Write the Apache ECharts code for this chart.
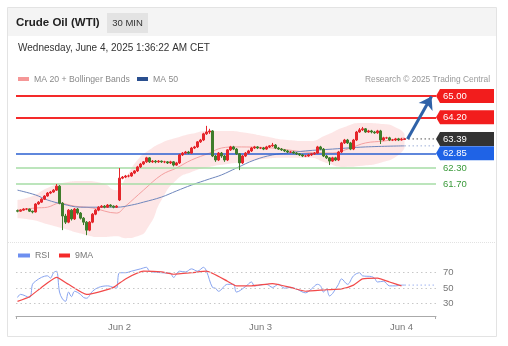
<!DOCTYPE html>
<html>
<head>
<meta charset="utf-8">
<script src="https://cdn.jsdelivr.net/npm/echarts@6/dist/echarts.min.js"></script>
<style>
  html, body { margin: 0; padding: 0; background: #fff; }
  #chart { width: 508px; height: 346px; }
</style>
</head>
<body>
<div id="chart"></div>
<script>
// 30-minute WTI candles, oldest first: [open, close, low, high] built from these
const opens = [
  60.70, 60.68, 60.72, 60.76, 60.76, 60.68, 60.65, 60.95, 61.02, 61.13,
  61.25, 61.36, 61.40, 61.47, 61.62, 60.98, 60.50, 60.27, 60.72, 60.39,
  60.76, 60.61, 60.42, 60.27, 59.97, 60.27, 60.57, 60.72, 60.83, 60.87,
  60.83, 60.91, 60.87, 60.83, 61.10, 61.92, 61.96, 62.00, 62.00, 62.11,
  62.19, 62.34, 62.45, 62.53, 62.68, 62.53, 62.56, 62.53, 62.56, 62.53,
  62.53, 62.49, 62.53, 62.41, 62.49, 62.79, 62.86, 62.90, 62.86, 63.05,
  63.09, 63.28, 63.35, 63.58, 63.65, 63.69, 62.75, 62.60, 62.86, 62.75,
  62.60, 62.98, 63.09, 63.01, 62.83, 62.49, 62.75, 62.86, 62.94, 63.05,
  63.09, 63.05, 63.05, 63.01, 63.09, 63.13, 63.16, 63.05, 63.01, 62.98,
  62.94, 62.90, 62.90, 62.86, 62.83, 62.79, 62.75, 62.75, 62.79, 62.83,
  62.86, 63.09, 63.01, 62.75, 62.68, 62.56, 62.68, 62.60, 62.90, 63.24,
  63.35, 63.24, 63.01, 63.35, 63.65, 63.73, 63.77, 63.65, 63.69, 63.65,
  63.62, 63.69, 63.35, 63.43, 63.43, 63.35, 63.35, 63.39, 63.35, 63.37
];
const closes = [
  60.68, 60.72, 60.76, 60.76, 60.68, 60.65, 60.95, 61.02, 61.13, 61.25,
  61.36, 61.40, 61.47, 61.62, 60.98, 60.50, 60.27, 60.72, 60.39, 60.76,
  60.61, 60.42, 60.27, 59.97, 60.27, 60.57, 60.72, 60.83, 60.87, 60.83,
  60.91, 60.87, 60.83, 60.87, 61.92, 61.96, 62.00, 62.00, 62.11, 62.19,
  62.34, 62.45, 62.53, 62.68, 62.53, 62.56, 62.53, 62.56, 62.53, 62.53,
  62.49, 62.53, 62.41, 62.49, 62.79, 62.86, 62.90, 62.86, 63.05, 63.09,
  63.28, 63.35, 63.58, 63.65, 63.69, 62.75, 62.60, 62.86, 62.75, 62.60,
  62.98, 63.09, 63.01, 62.83, 62.49, 62.75, 62.86, 62.94, 63.05, 63.09,
  63.05, 63.05, 63.01, 63.09, 63.13, 63.16, 63.05, 63.01, 62.98, 62.94,
  62.90, 62.90, 62.86, 62.83, 62.79, 62.75, 62.75, 62.79, 62.83, 62.86,
  63.09, 63.01, 62.75, 62.68, 62.56, 62.68, 62.60, 62.90, 63.24, 63.35,
  63.24, 63.01, 63.35, 63.65, 63.73, 63.77, 63.65, 63.69, 63.65, 63.62,
  63.69, 63.35, 63.43, 63.43, 63.35, 63.35, 63.39, 63.35, 63.37, 63.39
];
const lows = [
  60.64, 60.66, 60.70, 60.72, 60.65, 60.60, 60.63, 60.92, 60.99, 61.10,
  61.22, 61.32, 61.37, 61.44, 60.94, 59.97, 60.20, 60.23, 60.33, 60.35,
  60.55, 60.37, 60.16, 59.78, 59.93, 60.23, 60.53, 60.68, 60.80, 60.79,
  60.80, 60.83, 60.79, 60.80, 61.06, 61.88, 61.92, 61.95, 61.97, 62.07,
  62.15, 62.30, 62.41, 62.49, 62.49, 62.49, 62.48, 62.49, 62.49, 62.48,
  62.45, 62.45, 62.36, 62.38, 62.45, 62.75, 62.82, 62.82, 62.83, 63.01,
  63.05, 63.24, 63.31, 63.54, 63.58, 62.71, 62.53, 62.56, 62.68, 62.53,
  62.56, 62.94, 62.97, 62.79, 62.22, 62.45, 62.71, 62.83, 62.90, 63.01,
  63.01, 63.01, 62.97, 62.98, 63.05, 63.09, 63.01, 62.98, 62.94, 62.90,
  62.86, 62.86, 62.83, 62.79, 62.75, 62.71, 62.71, 62.72, 62.75, 62.79,
  62.83, 62.97, 62.71, 62.64, 62.41, 62.53, 62.56, 62.56, 62.86, 63.20,
  63.20, 62.97, 62.97, 63.31, 63.62, 63.69, 63.62, 63.62, 63.60, 63.58,
  63.58, 63.20, 63.31, 63.39, 63.31, 63.31, 63.31, 63.31, 63.33, 63.35
];
const highs = [
  60.74, 60.75, 60.79, 60.80, 60.78, 60.70, 60.98, 61.06, 61.17, 61.28,
  61.40, 61.44, 61.51, 61.70, 61.66, 61.02, 60.58, 60.76, 60.76, 60.80,
  60.80, 60.65, 60.46, 60.31, 60.31, 60.61, 60.76, 60.87, 60.91, 60.91,
  60.95, 60.94, 60.90, 60.91, 62.30, 62.00, 62.04, 62.05, 62.15, 62.22,
  62.38, 62.49, 62.56, 62.72, 62.71, 62.60, 62.60, 62.60, 62.58, 62.57,
  62.56, 62.57, 62.56, 62.53, 62.83, 62.90, 62.94, 62.94, 63.09, 63.13,
  63.31, 63.39, 63.62, 63.88, 63.77, 63.72, 62.79, 62.90, 62.90, 62.79,
  63.01, 63.13, 63.13, 63.05, 62.86, 62.79, 62.90, 62.98, 63.09, 63.13,
  63.12, 63.09, 63.09, 63.13, 63.16, 63.24, 63.20, 63.09, 63.05, 63.01,
  62.98, 62.94, 62.94, 62.90, 62.86, 62.83, 62.79, 62.83, 62.86, 62.90,
  63.13, 63.13, 63.05, 62.79, 62.71, 62.72, 62.72, 62.94, 63.28, 63.39,
  63.39, 63.28, 63.39, 63.69, 63.80, 63.84, 63.80, 63.73, 63.73, 63.69,
  63.73, 63.73, 63.47, 63.47, 63.47, 63.39, 63.43, 63.43, 63.43, 63.42
];

// Moving averages and Bollinger envelope (candle index, price)
const ma20Idx = [0, 6, 10, 14, 19, 25, 33, 36, 42, 48, 53, 58, 64, 68, 73, 85, 90, 96, 105, 111, 116, 122, 129];
const ma20Val = [60.72, 60.80, 60.83, 60.98, 60.87, 60.80, 60.61, 60.87, 61.47, 62.04, 62.30, 62.60, 62.86, 63.05, 63.09, 63.05, 62.98, 62.90, 62.86, 63.05, 63.24, 63.31, 63.43];
const ma50Idx = [0, 6, 10, 15, 21, 28, 33, 38, 42, 48, 53, 58, 64, 68, 73, 79, 85, 90, 96, 105, 116, 129];
const ma50Val = [61.47, 61.29, 61.10, 60.95, 60.83, 60.83, 60.83, 60.91, 61.02, 61.21, 61.44, 61.66, 61.89, 62.04, 62.30, 62.60, 62.79, 62.86, 62.94, 63.01, 63.09, 63.13];
const bandIdx   = [0, 5, 10, 15, 22, 28, 33, 36, 40, 44, 48, 53, 58, 64, 70, 76, 82, 90, 97, 103, 109, 115, 122, 127, 129];
const bandUpper = [61.10, 61.25, 61.55, 61.74, 61.81, 61.74, 61.47, 61.92, 62.60, 62.98, 63.24, 63.43, 63.58, 63.69, 63.69, 63.62, 63.50, 63.35, 63.31, 63.54, 63.84, 63.99, 63.95, 63.77, 63.58];
const bandLower = [60.42, 60.35, 60.19, 60.04, 59.82, 59.71, 59.74, 59.67, 59.74, 60.16, 61.10, 61.85, 62.15, 62.34, 62.45, 62.53, 62.64, 62.68, 62.68, 62.49, 62.34, 62.38, 62.53, 62.79, 63.05];

// RSI(14) and its 9-period average (candle index, value)
const rsiIdx = [0, 1, 4, 5, 6, 8, 10, 11, 12, 13, 14, 15, 16, 17, 18, 19, 21, 22, 23, 25, 27, 30, 32, 33, 34, 36, 38, 41, 43, 44, 48, 51, 52, 54, 56, 58, 60, 62, 63, 65, 66, 67, 70, 72, 73, 76, 78, 79, 83, 85, 87, 89, 91, 93, 96, 98, 100, 101, 102, 103, 104, 105, 107, 108, 110, 112, 114, 115, 118, 119, 120, 122, 124, 126, 128, 129];
const rsiVal = [38, 42, 38, 55, 59, 64, 66, 63, 70, 72, 45, 36, 33, 45, 39, 46, 42, 38, 37, 46, 51, 53, 51, 50, 70, 70, 72, 75, 77, 72, 70, 69, 64, 72, 71, 75, 72, 77, 72, 51, 50, 46, 55, 55, 45, 52, 58, 53, 55, 51, 55, 50, 51, 49, 44, 49, 55, 53, 45, 49, 40, 43, 55, 62, 55, 66, 70, 66, 65, 63, 58, 59, 53, 53, 54, 54];
const rsiMaIdx = [0, 4, 8, 13, 17, 23, 27, 32, 36, 42, 48, 52, 58, 63, 70, 73, 78, 85, 91, 96, 103, 108, 112, 115, 120, 124, 128];
const rsiMaVal = [33, 39, 51, 64, 55, 42, 45, 51, 62, 72, 71, 68, 70, 72, 59, 53, 53, 56, 51, 46, 48, 49, 54, 62, 63, 58, 53];

// Key levels and axis ticks
const resistance = [65.00, 64.20];
const pivot = 62.85;
const supports = [62.30, 61.70];
const lastPrice = 63.39;
const target = 65.00;
const rsiLevels = [70, 50, 30];
const dayTickIdx = [34, 81, 128];
const dayTickLabels = ['Jun 2', 'Jun 3', 'Jun 4'];
const slotCount = 140;

const FONT = '"Liberation Sans", Arial, Helvetica, sans-serif';
const categories = Array.from({ length: slotCount }, (_, i) => String(i));
const lastIdx = closes.length - 1;
const candleData = opens.map((o, i) => [o, closes[i], lows[i], highs[i]]);
const pairs = (idx, val) => idx.map((x, k) => [x, val[k]]);

// tag boxes drawn at the right edge for each level
const tags = [
  { v: resistance[0], fill: '#f21d1d', text: '#fff' },
  { v: resistance[1], fill: '#f21d1d', text: '#fff' },
  { v: lastPrice,     fill: '#333333', text: '#fff' },
  { v: pivot,         fill: '#1f63e6', text: '#fff' },
  { v: supports[0],   fill: null,      text: '#3a9a3a' },
  { v: supports[1],   fill: null,      text: '#3a9a3a' }
];

const chart = echarts.init(document.getElementById('chart'), null, { renderer: 'canvas' });

const option = {
  animation: false,
  backgroundColor: '#fff',
  textStyle: { fontFamily: FONT },
  grid: [
    { left: 16, width: 420, top: 88, height: 152 },
    { left: 16, width: 420, top: 265, height: 51 }
  ],
  xAxis: [
    { type: 'category', gridIndex: 0, data: categories, boundaryGap: true, show: false },
    {
      type: 'category', gridIndex: 1, data: categories, boundaryGap: true,
      axisLine: { show: true, lineStyle: { color: '#aaa', width: 1 } },
      axisTick: { show: false },
      axisLabel: {
        interval: (i) => dayTickIdx.includes(i),
        formatter: (v) => { const k = dayTickIdx.indexOf(Number(v)); return k >= 0 ? dayTickLabels[k] : ''; },
        color: '#777', fontSize: 9.5, fontFamily: FONT, margin: 6
      },
      splitLine: { show: false }
    }
  ],
  yAxis: [
    { type: 'value', gridIndex: 0, min: 59.6, max: 65.3, show: false, splitLine: { show: false } },
    { type: 'value', gridIndex: 1, min: 14, max: 80, show: false, splitLine: { show: false } }
  ],
  series: [
    // Bollinger envelope: lower edge + width, stacked
    {
      type: 'line', xAxisIndex: 0, yAxisIndex: 0, stack: 'bb', smooth: 0.6, symbol: 'none',
      data: pairs(bandIdx, bandLower), lineStyle: { opacity: 0 }, areaStyle: { opacity: 0 }, silent: true, z: 1
    },
    {
      type: 'line', xAxisIndex: 0, yAxisIndex: 0, stack: 'bb', smooth: 0.6, symbol: 'none',
      data: bandIdx.map((x, k) => [x, +(bandUpper[k] - bandLower[k]).toFixed(2)]),
      lineStyle: { opacity: 0 }, areaStyle: { color: 'rgba(250, 200, 200, 0.65)' }, silent: true, z: 1
    },
    {
      name: 'MA 20', type: 'line', xAxisIndex: 0, yAxisIndex: 0, smooth: 0.4, symbol: 'none',
      data: pairs(ma20Idx, ma20Val), lineStyle: { color: '#f4a0a0', width: 1 }, z: 3
    },
    {
      name: 'MA 50', type: 'line', xAxisIndex: 0, yAxisIndex: 0, smooth: 0.4, symbol: 'none',
      data: pairs(ma50Idx, ma50Val), lineStyle: { color: '#6f87bd', width: 1 }, z: 3
    },
    {
      type: 'candlestick', xAxisIndex: 0, yAxisIndex: 0, data: candleData, barWidth: 1.8, z: 5,
      itemStyle: { color: '#e5262b', color0: '#3f7d2b', borderColor: '#e5262b', borderColor0: '#3f7d2b', borderWidth: 1 },
      markLine: {
        silent: true, symbol: 'none', label: { show: false },
        data: [
          { yAxis: resistance[0], lineStyle: { color: '#f42a2a', width: 2, type: 'solid' } },
          { yAxis: resistance[1], lineStyle: { color: '#f42a2a', width: 2, type: 'solid' } },
          { yAxis: pivot,         lineStyle: { color: '#2a5fd0', width: 1.5, type: 'solid' } },
          { yAxis: supports[0],   lineStyle: { color: '#a6dca6', width: 1.5, type: 'solid' } },
          { yAxis: supports[1],   lineStyle: { color: '#a6dca6', width: 1.5, type: 'solid' } }
        ]
      }
    },
    // price and MA50 carried forward to the tags
    {
      type: 'line', xAxisIndex: 0, yAxisIndex: 0, symbol: 'none', silent: true, z: 4,
      data: [[lastIdx, lastPrice], [slotCount - 1, lastPrice]],
      lineStyle: { color: '#555', width: 1, type: [1.5, 2.5] }
    },
    {
      type: 'line', xAxisIndex: 0, yAxisIndex: 0, symbol: 'none', silent: true, z: 4,
      data: [[lastIdx, ma50Val[ma50Val.length - 1]], [slotCount - 1, ma50Val[ma50Val.length - 1]]],
      lineStyle: { color: '#9fb0d8', width: 1, type: [1.5, 2.5] }
    },
    // projected move towards the target
    {
      type: 'line', xAxisIndex: 0, yAxisIndex: 0, data: [], silent: true, z: 8,
      markLine: {
        silent: true, symbol: ['none', 'arrow'], symbolSize: [12, 12], label: { show: false },
        lineStyle: { color: '#2f62a8', width: 3, type: 'solid' },
        data: [[{ coord: [lastIdx + 1, lastPrice] }, { coord: [slotCount - 2, target - 0.02] }]]
      }
    },
    // level tags at the right edge
    {
      type: 'custom', xAxisIndex: 0, yAxisIndex: 0, clip: false, silent: true, z: 10,
      data: tags.map(t => [slotCount - 1, t.v]),
      renderItem: (params, api) => {
        const t = tags[params.dataIndex];
        const y = api.coord([slotCount - 1, t.v])[1];
        const x0 = params.coordSys.x + params.coordSys.width;
        const children = [];
        if (t.fill) {
          children.push({
            type: 'polygon',
            shape: { points: [[x0, y], [x0 + 4, y - 7], [x0 + 58, y - 7], [x0 + 58, y + 7], [x0 + 4, y + 7]] },
            style: { fill: t.fill }
          });
        }
        children.push({
          type: 'text',
          style: { x: x0 + 7, y: y, text: t.v.toFixed(2), fill: t.text, font: '9.5px ' + FONT, verticalAlign: 'middle', align: 'left' }
        });
        return { type: 'group', children };
      }
    },
    // RSI panel
    {
      name: 'RSI', type: 'line', xAxisIndex: 1, yAxisIndex: 1, smooth: 0.35, symbol: 'none',
      data: pairs(rsiIdx, rsiVal), lineStyle: { color: '#88a4f0', width: 1 }, z: 3,
      markLine: {
        silent: true, symbol: 'none',
        lineStyle: { color: '#c8c8c8', width: 1, type: [1.5, 3] },
        label: { show: true, position: 'end', distance: 7, color: '#777', fontSize: 9.5, fontFamily: FONT, formatter: '{c}' },
        data: rsiLevels.map(v => ({ yAxis: v }))
      }
    },
    {
      type: 'line', xAxisIndex: 1, yAxisIndex: 1, symbol: 'none', silent: true, z: 2,
      data: [[lastIdx, rsiVal[rsiVal.length - 1]], [slotCount - 1, rsiVal[rsiVal.length - 1]]],
      lineStyle: { color: '#9fb3f0', width: 1, type: [1.5, 2.5] }
    },
    {
      name: '9MA', type: 'line', xAxisIndex: 1, yAxisIndex: 1, smooth: 0.15, symbol: 'none',
      data: pairs(rsiMaIdx, rsiMaVal), lineStyle: { color: '#f24a4a', width: 1.2 }, z: 4
    }
  ],
  graphic: [
    // frame and header
    { type: 'rect', shape: { x: 7.5, y: 7.5, width: 489, height: 329 }, style: { fill: 'none', stroke: '#e3e3e3', lineWidth: 1 }, z: -10 },
    { type: 'rect', shape: { x: 8, y: 8, width: 488, height: 28 }, style: { fill: '#f4f4f4' }, z: -9 },
    { type: 'text', style: { x: 16, y: 23, text: 'Crude Oil (WTI)', font: 'bold 11.5px ' + FONT, fill: '#222', verticalAlign: 'middle' } },
    { type: 'rect', shape: { x: 107, y: 13, width: 41, height: 20 }, style: { fill: '#e3e3e3' } },
    { type: 'text', style: { x: 127.5, y: 23, text: '30 MIN', font: '9.5px ' + FONT, fill: '#333', align: 'center', verticalAlign: 'middle' } },
    { type: 'text', style: { x: 18, y: 48, text: 'Wednesday, June 4, 2025 1:36:22 AM CET', font: '10px ' + FONT, fill: '#333', verticalAlign: 'middle' } },
    // main legend
    { type: 'rect', shape: { x: 18, y: 77, width: 11, height: 4 }, style: { fill: '#f59797' } },
    { type: 'text', style: { x: 34, y: 79.5, text: 'MA 20 + Bollinger Bands', font: '8.7px ' + FONT, fill: '#8a8a8a', verticalAlign: 'middle' } },
    { type: 'rect', shape: { x: 137, y: 77, width: 11, height: 4 }, style: { fill: '#2a4f8f' } },
    { type: 'text', style: { x: 153, y: 79.5, text: 'MA 50', font: '8.7px ' + FONT, fill: '#8a8a8a', verticalAlign: 'middle' } },
    { type: 'text', style: { x: 490, y: 79.5, text: 'Research © 2025 Trading Central', font: '8.4px ' + FONT, fill: '#999', align: 'right', verticalAlign: 'middle' } },
    // panel separator
    { type: 'line', shape: { x1: 8, y1: 242.5, x2: 496, y2: 242.5 }, style: { stroke: '#e2e2e2', lineWidth: 1, lineDash: [1, 1] } },
    // RSI legend
    { type: 'rect', shape: { x: 18, y: 253.5, width: 12, height: 4 }, style: { fill: '#6d8ff0' } },
    { type: 'text', style: { x: 35, y: 255.5, text: 'RSI', font: '8.8px ' + FONT, fill: '#777', verticalAlign: 'middle' } },
    { type: 'rect', shape: { x: 59, y: 253.5, width: 11, height: 4 }, style: { fill: '#f42a2a' } },
    { type: 'text', style: { x: 75, y: 255.5, text: '9MA', font: '8.8px ' + FONT, fill: '#777', verticalAlign: 'middle' } },
    // time axis end ticks
    { type: 'line', shape: { x1: 16.5, y1: 316, x2: 16.5, y2: 319 }, style: { stroke: '#aaa', lineWidth: 1 } },
    { type: 'line', shape: { x1: 435.5, y1: 316, x2: 435.5, y2: 319 }, style: { stroke: '#aaa', lineWidth: 1 } }
  ]
};

chart.setOption(option);
</script>
</body>
</html>
